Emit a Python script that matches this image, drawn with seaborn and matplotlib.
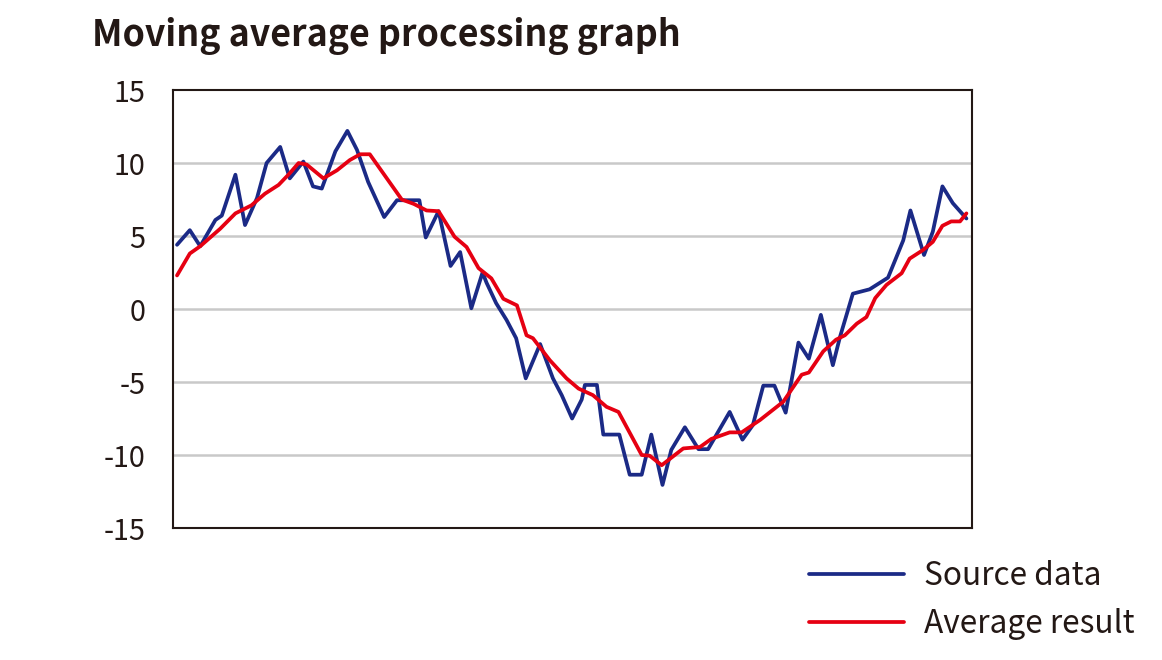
import numpy as np
import pandas as pd
import matplotlib
matplotlib.use("Agg")
import matplotlib.pyplot as plt
import seaborn as sns

sns.set_theme(style="white")
plt.rcParams['font.family'] = ['Noto Sans CJK JP', 'DejaVu Sans']

TITLE = "Moving average processing graph"
SERIES = ["Source data", "Average result"]
Y_TICKS = [15, 10, 5, 0, -5, -10, -15]

# source data (sample position, value)
src_t = [0.5, 2.1, 3.4, 5.3, 6.1, 7.8, 9.0, 10.5, 11.7, 13.4,
         14.6, 16.3, 17.5, 18.6, 20.3, 21.8, 23.0, 24.4, 26.4, 28.0,
         30.8, 31.6, 33.2, 34.7, 35.9, 37.3, 38.7, 39.2, 40.4, 41.7,
         42.9, 44.1, 45.9, 47.5, 48.6, 49.9, 51.1, 51.5, 53.0, 53.8,
         55.8, 57.1, 58.6, 59.8, 61.2, 62.3, 64.0, 65.7, 66.9, 69.6,
         71.2, 72.5, 73.8, 75.2, 76.6, 78.2, 79.5, 81.0, 82.5, 83.4,
         85.0, 87.1, 89.4, 91.3, 92.2, 93.9, 95.0, 96.2, 97.5, 99.2]
src_v = [4.4, 5.4, 4.3, 6.1, 6.4, 9.2, 5.75, 7.6, 10.0, 11.1,
         8.95, 10.1, 8.4, 8.25, 10.8, 12.2, 10.9, 8.7, 6.3, 7.45,
         7.45, 4.9, 6.7, 2.95, 3.9, 0.05, 2.5, 1.8, 0.4, -0.75,
         -2.0, -4.75, -2.4, -4.75, -5.9, -7.5, -6.2, -5.2, -5.2, -8.6,
         -8.6, -11.35, -11.35, -8.6, -12.05, -9.65, -8.1, -9.6, -9.6, -7.05,
         -8.95, -7.95, -5.25, -5.25, -7.1, -2.3, -3.4, -0.4, -3.85, -1.9,
         1.05, 1.35, 2.15, 4.7, 6.75, 3.7, 5.3, 8.4, 7.25, 6.2]

# moving average result
avg_t = [0.5, 2.1, 3.4, 5.9, 7.8, 9.8, 11.5, 13.2, 14.6, 15.7,
         16.7, 18.8, 20.5, 22.1, 23.4, 24.6, 28.6, 30.1, 31.7, 33.2,
         35.2, 36.7, 38.2, 39.8, 41.3, 43.0, 44.2, 45.0, 47.1, 49.2,
         50.7, 52.5, 54.2, 55.7, 58.6, 59.6, 61.1, 63.8, 65.9, 67.3,
         69.6, 71.1, 73.4, 76.3, 78.6, 79.5, 81.3, 82.9, 84.0, 85.5,
         86.7, 87.8, 89.2, 91.1, 92.1, 93.8, 95.0, 96.2, 97.3, 98.4,
         99.2]
avg_v = [2.3, 3.8, 4.3, 5.5, 6.55, 7.1, 7.9, 8.5, 9.3, 10.0,
         9.9, 8.95, 9.5, 10.2, 10.6, 10.6, 7.5, 7.2, 6.75, 6.7,
         4.95, 4.25, 2.8, 2.1, 0.7, 0.25, -1.8, -2.0, -3.5, -4.75,
         -5.45, -5.9, -6.7, -7.05, -10.0, -10.05, -10.7, -9.55, -9.45, -8.9,
         -8.45, -8.45, -7.6, -6.35, -4.5, -4.35, -2.9, -2.1, -1.8, -1.0,
         -0.55, 0.75, 1.65, 2.45, 3.45, 4.05, 4.6, 5.7, 6.0, 6.0,
         6.55]

BLUE = "#1b2a86"
RED = "#e60012"
INK = "#231815"

df = pd.concat([
    pd.DataFrame({"t": src_t, "value": src_v, "series": SERIES[0]}),
    pd.DataFrame({"t": avg_t, "value": avg_v, "series": SERIES[1]}),
])

fig = plt.figure(figsize=(11.62, 6.6), dpi=100)
ax = fig.add_axes([0.1489, 0.2, 0.6876, 0.6636])

for y in Y_TICKS[1:-1]:
    ax.axhline(y, color="#c9c9c9", linewidth=1.8, zorder=0)

sns.lineplot(data=df, x="t", y="value", hue="series", sort=False,
             palette=[BLUE, RED], hue_order=SERIES, linewidth=2.7,
             ax=ax, legend=False, estimator=None)

ax.set_xlim(0, 99.9)
ax.set_ylim(-15, 15)
ax.set_yticks(Y_TICKS)
ax.set_yticklabels([str(v) for v in Y_TICKS], fontsize=20.7, color=INK)
ax.set_xticks([])
ax.set_xlabel("")
ax.set_ylabel("")
ax.tick_params(axis='y', length=0, pad=20)
for sp in ax.spines.values():
    sp.set_color(INK)
    sp.set_linewidth(1.5)

fig.text(0.079, 0.945, TITLE, fontsize=25.7, fontweight='bold', color=INK,
         ha='left', va='center')

handles = [plt.Line2D([], [], color=BLUE, linewidth=2.7),
           plt.Line2D([], [], color=RED, linewidth=2.7)]
leg = fig.legend(handles, SERIES, loc='upper left', bbox_to_anchor=(0.672, 0.194),
                 frameon=False, fontsize=22.8, handlelength=3.0, handletextpad=0.63,
                 labelspacing=0.5, labelcolor=INK)

fig.savefig("out.png", dpi=100)
